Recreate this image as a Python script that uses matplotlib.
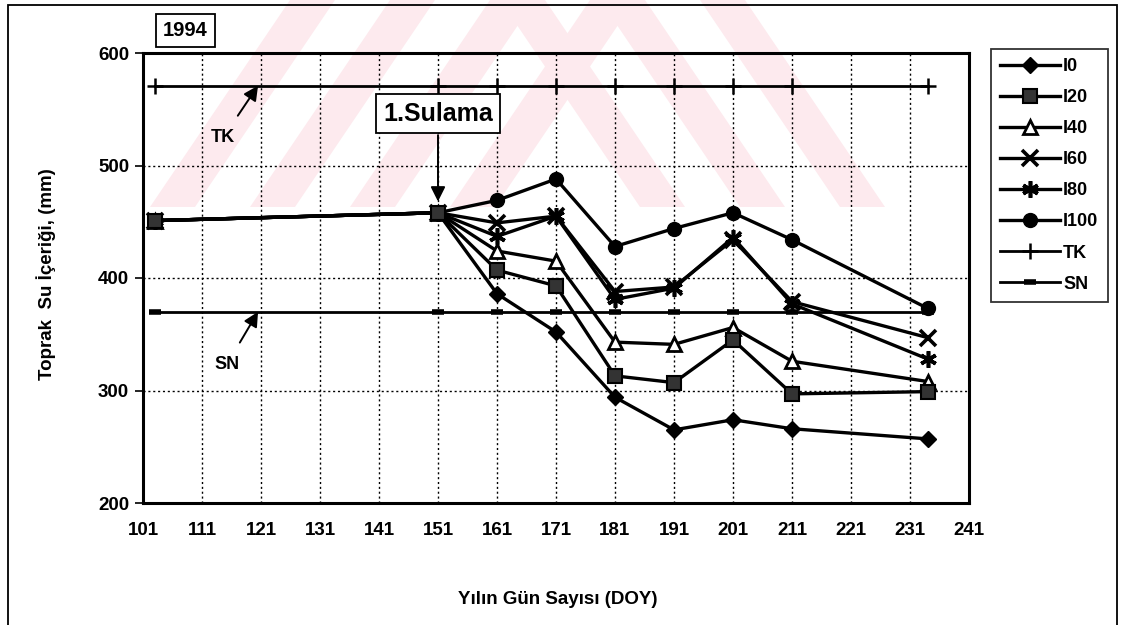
import matplotlib
matplotlib.use("Agg")
import matplotlib.pyplot as plt
from matplotlib.patches import Rectangle, Polygon

plt.rcParams['font.family'] = ['Liberation Sans', 'DejaVu Sans']
plt.rcParams['font.weight'] = 'bold'

# ---- data ----
doy = [103, 151, 161, 171, 181, 191, 201, 211, 234]
I0   = [451, 458, 386, 352, 294, 265, 274, 266, 257]
I20  = [451, 458, 407, 393, 313, 307, 345, 297, 299]
I40  = [451, 458, 424, 415, 343, 341, 356, 326, 308]
I60  = [451, 458, 449, 455, 388, 392, 434, 379, 347]
I80  = [451, 458, 437, 455, 381, 391, 436, 377, 328]
I100 = [451, 458, 469, 488, 428, 444, 458, 434, 373]
TK = [571] * len(doy)
SN = [370] * len(doy)
x_ticks = list(range(101, 242, 10))
y_ticks = [200, 300, 400, 500, 600]
year_label = "1994"
irrig_label = "1.Sulama"
irrig_day = 151

W, H = 1129, 625
fig = plt.figure(figsize=(W / 100, H / 100), dpi=100)

def fx(px):
    return px / W

def fy(py):
    return 1 - py / H

# faint watermark-like stripes in the background
pink = '#fdeaee'
for x0 in [150, 250, 350, 450]:
    fig.patches.append(Polygon([(fx(x0), fy(207)), (fx(x0 + 45), fy(207)),
                                (fx(x0 + 45 + 140), fy(0)), (fx(x0 + 140), fy(0))],
                               closed=True, transform=fig.transFigure,
                               facecolor=pink, edgecolor='none', zorder=-5))
for x0 in [640, 740, 840]:
    fig.patches.append(Polygon([(fx(x0), fy(207)), (fx(x0 + 45), fy(207)),
                                (fx(x0 + 45 - 140), fy(0)), (fx(x0 - 140), fy(0))],
                               closed=True, transform=fig.transFigure,
                               facecolor=pink, edgecolor='none', zorder=-5))

# outer frame
fig.patches.append(Rectangle((fx(8), -0.05), fx(1117) - fx(8), fy(5) + 0.05,
                             transform=fig.transFigure, fill=False,
                             edgecolor='black', linewidth=1.3, zorder=-4))

ax = fig.add_axes([fx(143), fy(503), fx(969) - fx(143), fy(53) - fy(503)])
ax.set_zorder(1)
ax.set_facecolor('none')
ax.set_xlim(101, 241)
ax.set_ylim(200, 600)
ax.set_xticks(x_ticks)
ax.set_yticks(y_ticks)
ax.tick_params(axis='x', length=0, pad=14, labelsize=13.5)
ax.tick_params(axis='y', length=6, width=1.2, pad=4, labelsize=13.5)
for lab in ax.get_xticklabels() + ax.get_yticklabels():
    lab.set_fontweight('bold')
ax.grid(True, color='black', linestyle=(0, (1.5, 2)), linewidth=1.0)
ax.set_axisbelow(True)
for s in ax.spines.values():
    s.set_linewidth(2.2)

lw = 2.4
common = dict(color='black', linewidth=lw)
ax.plot(doy, TK, marker='+', markersize=12, markeredgewidth=1.8, color='black', linewidth=2.0, label='TK', zorder=3)
ax.plot(doy, SN, marker='_', markersize=9, markeredgewidth=4, color='black', linewidth=2.0, label='SN', zorder=3)

ax.plot(doy, I0, marker='D', markersize=8.5, markerfacecolor='black', markeredgecolor='black', label='I0', zorder=4, **common)
ax.plot(doy, I40, marker='^', markersize=10, markerfacecolor='white', markeredgecolor='black', markeredgewidth=2, label='I40', zorder=4, **common)
ax.plot(doy, I60, marker='x', markersize=11, markeredgewidth=2.6, label='I60', zorder=4, **common)
ax.plot(doy, I80, marker=(6, 2, 0), markersize=12, markeredgewidth=2.6, label='I80', zorder=4, **common)
ax.plot(doy, I100, marker='o', markersize=10, markerfacecolor='black', label='I100', zorder=4, **common)
ax.plot(doy, I20, marker='s', markersize=10, markerfacecolor='0.2', markeredgecolor='black', markeredgewidth=1.5, label='I20', zorder=5, **common)

fig.text(fx(46), fy(274), 'Toprak  Su İçeriği, (mm)', fontsize=13.5, fontweight='bold',
         rotation=90, ha='center', va='center')
fig.text(fx(558), fy(600), 'Yılın Gün Sayısı (DOY)', fontsize=13.5, fontweight='bold', ha='center', va='center')

# year box
fig.text(fx(185.5), fy(30.5), year_label, fontsize=14.5, fontweight='bold', ha='center', va='center',
         bbox=dict(boxstyle='square,pad=0.35', facecolor='white', edgecolor='black', linewidth=1.3))

# irrigation annotation
ax.annotate('', xy=(irrig_day, 468), xytext=(irrig_day, 527),
            arrowprops=dict(arrowstyle='-|>', color='black', lw=1.4, mutation_scale=22, shrinkA=0, shrinkB=0), zorder=6)
ax.text(irrig_day, 546, irrig_label, fontsize=18, fontweight='bold', ha='center', va='center',
        bbox=dict(boxstyle='square,pad=0.3', facecolor='white', edgecolor='black', linewidth=1.3), zorder=7)

# TK / SN annotations
ax.annotate('TK', xy=(120.5, 571), xytext=(114.6, 525), fontsize=13, fontweight='bold', ha='center', va='center',
            arrowprops=dict(arrowstyle='-|>', color='black', lw=1.4, mutation_scale=22, shrinkA=9, shrinkB=0), zorder=6)
ax.annotate('SN', xy=(120.5, 370), xytext=(115.2, 323), fontsize=13, fontweight='bold', ha='center', va='center',
            arrowprops=dict(arrowstyle='-|>', color='black', lw=1.4, mutation_scale=22, shrinkA=9, shrinkB=0), zorder=6)

# legend
order = ['I0', 'I20', 'I40', 'I60', 'I80', 'I100', 'TK', 'SN']
handles, labels = ax.get_legend_handles_labels()
hmap = dict(zip(labels, handles))
leg = fig.legend([hmap[k] for k in order], order, loc='upper left',
                 bbox_to_anchor=(fx(991), fy(49)), fontsize=13, frameon=True, fancybox=False,
                 edgecolor='black', handlelength=3.3, labelspacing=0.78, borderpad=0.5,
                 handletextpad=0.2, borderaxespad=0)
leg.get_frame().set_linewidth(1.3)
for t in leg.get_texts():
    t.set_fontweight('bold')

fig.savefig('out.png', dpi=100)
